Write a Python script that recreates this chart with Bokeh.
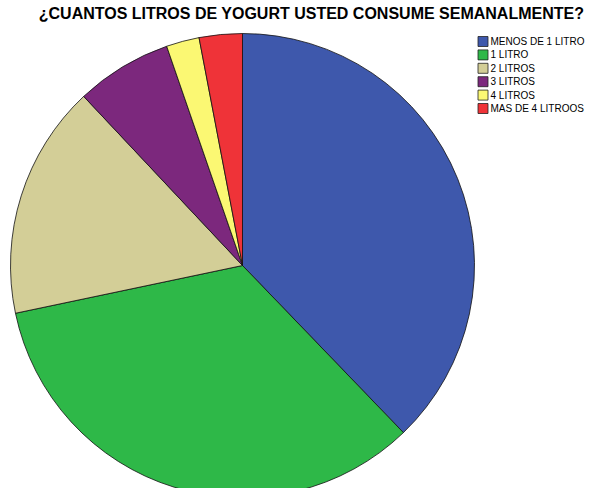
import math
from bokeh.plotting import figure
from bokeh.models import Range1d, ColumnDataSource
from bokeh.core.properties import value
from bokeh.embed import file_html
from bokeh.resources import INLINE

title = "¿CUANTOS LITROS DE YOGURT USTED CONSUME SEMANALMENTE?"
categories = ["MENOS DE 1 LITRO", "1 LITRO", "2 LITROS", "3 LITROS", "4 LITROS", "MAS DE 4 LITROOS"]
percents = [37.8, 33.9, 16.3, 6.7, 2.3, 3.0]
colors = ["#3E58AC", "#2EB848", "#D3CE97", "#7C287D", "#FBF873", "#EF3338"]

W, H = 596, 488
p = figure(width=W, height=H, x_range=Range1d(0, W), y_range=Range1d(0, H),
           output_backend="svg", toolbar_location=None, min_border=0)
p.axis.visible = False
p.grid.visible = False
p.outline_line_color = None
p.background_fill_color = "white"
p.border_fill_color = "white"

total = sum(percents)
starts, ends = [], []
cum = 0
for c in percents:
    starts.append(math.pi / 2 - 2 * math.pi * cum / total)
    cum += c
    ends.append(math.pi / 2 - 2 * math.pi * cum / total)

src = ColumnDataSource(dict(start=starts, end=ends, color=colors))
cx, cy, r = 242, H - 265, 232
p.wedge(x=cx, y=cy, radius=r, start_angle="start", end_angle="end", direction="clock",
        fill_color="color", line_color="#111111", line_width=0.8, source=src)

# title
p.text(x=[311], y=[H - 13], text=[title], text_font=value("Liberation Sans"),
       text_font_style="bold", text_font_size="16px", text_align="center",
       text_baseline="middle", text_color="#000000")

# legend
lx, ly0, dy = 482.5, H - 41, 13.4
lys = [ly0 - i * dy for i in range(len(categories))]
p.rect(x=[lx] * len(categories), y=lys, width=10, height=10, fill_color=colors,
       line_color="#222222", line_width=0.8)
p.text(x=[490] * len(categories), y=lys, text=categories, text_font=value("Liberation Sans"),
       text_font_size="10px", text_baseline="middle", text_color="#000000")

open("out.html", "w").write(file_html(p, INLINE))
